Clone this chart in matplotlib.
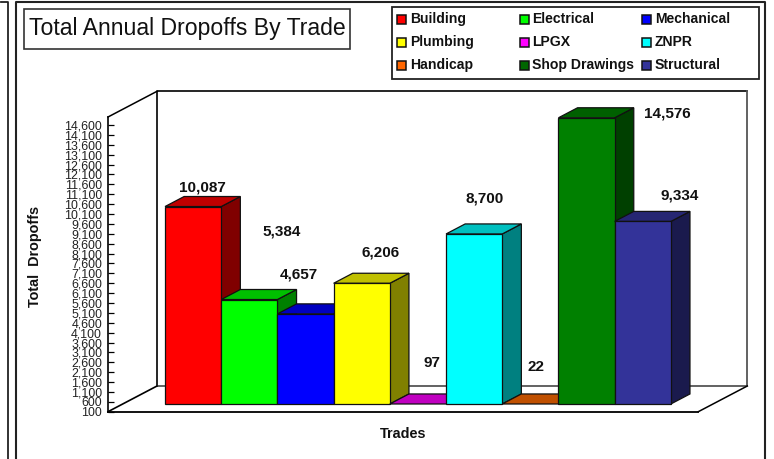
#!/usr/bin/env python3
import matplotlib
matplotlib.use("Agg")
import matplotlib.pyplot as plt
from matplotlib.patches import Polygon, Rectangle

plt.rcParams['font.family'] = ['Liberation Sans', 'DejaVu Sans']

trades = ["Building", "Electrical", "Mechanical", "Plumbing", "LPGX", "ZNPR",
          "Handicap", "Shop Drawings", "Structural"]
dropoffs = [10087, 5384, 4657, 6206, 97, 8700, 22, 14576, 9334]
value_labels = ["10,087", "5,384", "4,657", "6,206", "97", "8,700", "22", "14,576", "9,334"]
tick_values = list(range(100, 14601, 500))

front_colors = ["#ff0000", "#00ff00", "#0000ff", "#ffff00", "#ff00ff", "#00ffff",
                "#ff6600", "#008000", "#333399"]
top_colors = ["#c00000", "#00c000", "#0000c0", "#c0c000", "#c000c0", "#00c0c0",
              "#c05000", "#006000", "#262673"]
side_colors = ["#800000", "#008000", "#000080", "#808000", "#800080", "#008080",
               "#803300", "#004000", "#1a1a4d"]
legend_colors = front_colors[:7] + ["#006600", "#333399"]

# label offsets from the top of the bar's front face, in pixels
label_offsets = [(9, 19), (32, 68), (-7, 39), (19, 31), (14, 41), (10, 35), (6, 37), (81, 4), (37, 26)]

W, H = 774, 459
BASE = 100
YMAX = 15006
DEPTH_X = 0.872      # category units from front to back of floor
DEPTH_Y = 1300       # value units from front to back of floor
BAR_FRONT = 0.30
BAR_BACK = 0.69


def project(x, y, d):
    """Shift a point (x, y) back by depth d (0 = front of the floor, 1 = wall)."""
    return x + d * DEPTH_X, y + d * DEPTH_Y


def face(ax, pts, color, z=2, lw=0.9, ec="#111111"):
    ax.add_patch(Polygon(pts, closed=True, fc=color, ec=ec, lw=lw, zorder=z, clip_on=False))


def draw_bar(ax, i, value, z):
    top = max(value, BASE)
    x0, x1 = i - 0.5, i + 0.5
    a = project(x0, BASE, BAR_FRONT)
    b = project(x1, BASE, BAR_FRONT)
    c = project(x1, top, BAR_FRONT)
    d = project(x0, top, BAR_FRONT)
    e = project(x1, BASE, BAR_BACK)
    f = project(x1, top, BAR_BACK)
    g = project(x0, top, BAR_BACK)
    face(ax, [b, e, f, c], side_colors[i], z)
    face(ax, [d, c, f, g], top_colors[i], z)
    if value > BASE:
        face(ax, [a, b, c, d], front_colors[i], z)


fig = plt.figure(figsize=(W / 100, H / 100), dpi=100, facecolor="white")

# page furniture, in pixel coordinates
page = fig.add_axes([0, 0, 1, 1])
page.set_xlim(0, W)
page.set_ylim(H, 0)
page.axis("off")
page.plot([1, 8, 8], [2, 2, H], color="#222222", lw=1.3)
page.plot([16, 16, 765, 765], [H, 2, 2, H], color="#222222", lw=1.5)
page.add_patch(Rectangle((24, 8.5), 326, 40.5, fc="white", ec="#333333", lw=1.2))
page.text(29, 29, "Total Annual Dropoffs By Trade", fontsize=16.6, color="#111111", va="center", ha="left")
page.add_patch(Rectangle((392, 7), 367, 72, fc="white", ec="#222222", lw=1.3))
for i, name in enumerate(trades):
    col, row = i % 3, i // 3
    sx, sy = 397 + col * 122.5, 19 + row * 23
    page.add_patch(Rectangle((sx, sy - 4.5), 9, 9, fc=legend_colors[i], ec="#111111", lw=1.1))
    page.text(sx + 13, sy, name, fontsize=10.1, fontweight="bold", color="#111111", va="center", ha="left")

# chart, front plane runs 108..698 px across and 411.7..117 px down
ax = fig.add_axes([108 / W, 1 - 411.7 / H, 590.3 / W, 294.7 / H])
ax.patch.set_alpha(0)
ax.set_xlim(-1.253, 9.25)
ax.set_ylim(BASE, YMAX)
for s in ["top", "right"]:
    ax.spines[s].set_visible(False)
ax.spines["left"].set_linewidth(1.2)
ax.spines["bottom"].set_linewidth(1.3)
ax.set_xticks([])
ax.set_yticks(tick_values)
ax.set_yticklabels([f"{v:,}" for v in tick_values], fontsize=8.9, color="#222222")
ax.tick_params(axis="y", direction="in", length=4.3, width=0.9, pad=4.3)
ax.set_ylabel("Total  Dropoffs", fontsize=10.4, fontweight="bold", color="#111111")
ax.yaxis.set_label_coords((42.5 - 108) / 590.3, (411.7 - 256) / 294.7)
ax.set_xlabel("Trades", fontsize=10.4, fontweight="bold", color="#111111")
ax.xaxis.set_label_coords(0.5, (411.7 - 426.5) / 294.7)

# wall and floor edges
x_lo, x_hi = ax.get_xlim()
wall = [project(x_lo, BASE, 1), project(x_hi, BASE, 1), project(x_hi, YMAX, 1), project(x_lo, YMAX, 1)]
ax.add_patch(Polygon(wall, closed=True, fc="white", ec="none", zorder=0, clip_on=False))
ax.plot(*zip(wall[0], wall[3], wall[2]), color="black", lw=1.2, zorder=1, clip_on=False)
ax.plot(*zip(wall[2], wall[1], wall[0]), color="#555555", lw=1.3, zorder=1, clip_on=False)
ax.plot(*zip((x_lo, BASE), wall[0]), color="black", lw=1.2, zorder=1, clip_on=False)
ax.plot(*zip((x_lo, YMAX), wall[3]), color="black", lw=1.1, zorder=1, clip_on=False)
ax.plot(*zip((x_hi, BASE), wall[1]), color="black", lw=1.1, zorder=1, clip_on=False)

for i, value in enumerate(dropoffs):
    draw_bar(ax, i, value, 2 + i)
for i, value in enumerate(dropoffs):
    anchor = project(i, max(value, BASE), BAR_FRONT)
    ax.annotate(value_labels[i], anchor, xytext=label_offsets[i], textcoords="offset pixels",
                fontsize=11, fontweight="bold", color="#111111", ha="center", va="center",
                zorder=20, annotation_clip=False)

fig.savefig("out.png", dpi=100)
